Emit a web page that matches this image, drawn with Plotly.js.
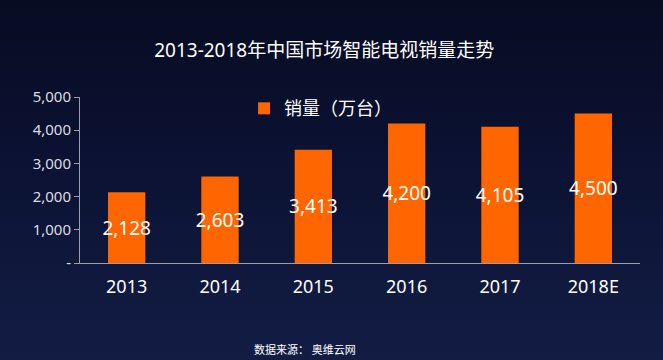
<!DOCTYPE html>
<html>
<head>
<meta charset="utf-8">
<script src="https://cdn.plot.ly/plotly-3.0.1.min.js"></script>
<style>
html,body{margin:0;padding:0;}
body{width:663px;height:360px;background:linear-gradient(to bottom,#070c22 0%,#0b1233 45%,#131d44 100%);overflow:hidden;}
#chart{width:663px;height:360px;}
</style>
</head>
<body>
<div id="chart"></div>
<script>
const categories = ["2013", "2014", "2015", "2016", "2017", "2018E"];
const sales = [2128, 2603, 3413, 4200, 4105, 4500];
const seriesName = "销量（万台）";
const yTickVals = [0, 1000, 2000, 3000, 4000, 5000];
const yTickText = ["-", "1,000", "2,000", "3,000", "4,000", "5,000"];
const titleText = "2013-2018年中国市场智能电视销量走势";
const sourceText = "数据来源： 奥维云网";

const FONT = "'Noto Sans', 'Noto Sans CJK SC', sans-serif";

const trace = {
  type: "bar",
  x: categories,
  y: sales,
  name: seriesName,
  marker: {color: "#ff6600"},
  width: 0.4,
  text: sales.map(v => v.toLocaleString("en-US")),
  textposition: "inside",
  insidetextanchor: "middle",
  constraintext: "none",
  textangle: 0,
  textfont: {color: "#ffffff", size: 19, family: FONT},
  hoverinfo: "none",
  showlegend: true
};

const layout = {
  width: 663,
  height: 360,
  paper_bgcolor: "rgba(0,0,0,0)",
  plot_bgcolor: "rgba(0,0,0,0)",
  margin: {l: 80, r: 23, t: 97, b: 97},
  font: {family: FONT, color: "#ffffff"},
  title: {
    text: titleText,
    font: {size: 19, color: "#ffffff", family: FONT},
    x: 0.489, xanchor: "center",
    y: 0.86, yanchor: "middle"
  },
  showlegend: true,
  legend: {
    orientation: "h",
    x: 0.293, xanchor: "left",
    y: 0.93, yanchor: "middle",
    font: {size: 18, color: "#ffffff", family: FONT},
    bgcolor: "rgba(0,0,0,0)",
    itemwidth: 30
  },
  xaxis: {
    type: "category",
    showgrid: false,
    showline: true,
    linecolor: "#9a9fb0",
    linewidth: 1,
    ticks: "",
    tickfont: {size: 18, color: "#ffffff", family: FONT},
    ticklabelstandoff: 7,
    zeroline: false
  },
  yaxis: {
    range: [0, 5000],
    tickvals: yTickVals,
    ticktext: yTickText,
    showgrid: false,
    zeroline: false,
    showline: true,
    linecolor: "#9a9fb0",
    linewidth: 1,
    ticks: "outside",
    ticklen: 5,
    tickcolor: "#9a9fb0",
    tickfont: {size: 15, color: "#dcdde3", family: FONT}
  },
  annotations: [{
    text: sourceText,
    xref: "paper", yref: "paper",
    x: 0.401, xanchor: "center",
    y: -0.52, yanchor: "middle",
    showarrow: false,
    font: {size: 11, color: "#ffffff", family: FONT}
  }],
  bargap: 0.6
};

Plotly.newPlot("chart", [trace], layout, {displayModeBar: false, staticPlot: true});
</script>
</body>
</html>
